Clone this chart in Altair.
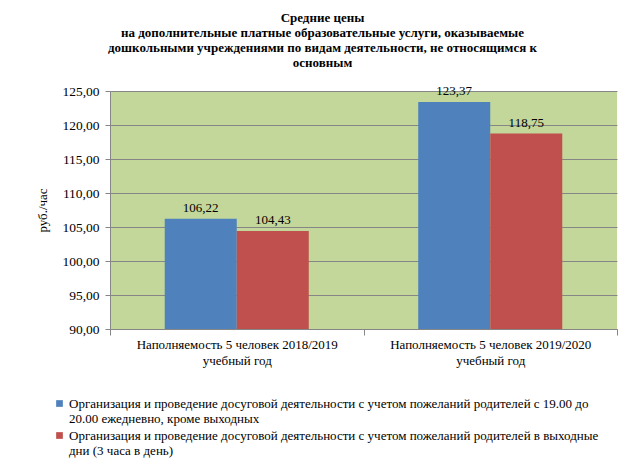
import altair as alt
import pandas as pd

FONT = "Liberation Serif"

categories = [
    "Наполняемость 5 человек 2018/2019|учебный год",
    "Наполняемость 5 человек 2019/2020|учебный год",
]
series = [
    "Организация и проведение досуговой деятельности  с учетом пожеланий родителей с 19.00  до|20.00  ежедневно,  кроме выходных",
    "Организация и проведение досуговой деятельности  с учетом пожеланий родителей в выходные|дни (3  часа в день)",
]
values_weekday = [106.22, 123.37]
values_weekend = [104.43, 118.75]
colors = ["#4F81BD", "#C0504D"]
title_lines = [
    "Средние  цены",
    "на дополнительные  платные  образовательные  услуги, оказываемые",
    "дошкольными  учреждениями по видам деятельности,  не  относящимся  к",
    "основным",
]

rows = []
for c, v1, v2 in zip(categories, values_weekday, values_weekend):
    rows.append({"cat": c, "ser": series[0], "val": v1})
    rows.append({"cat": c, "ser": series[1], "val": v2})
df = pd.DataFrame(rows)

x = alt.X(
    "cat:N",
    sort=categories,
    title=None,
    scale=alt.Scale(paddingInner=0, paddingOuter=0),
    axis=alt.Axis(
        labelExpr="split(datum.label, '|')",
        labelAngle=0,
        labelFont=FONT,
        labelFontSize=13,
        labelColor="#000000",
        labelLineHeight=16,
        labelPadding=3,
        tickBand="extent",
        tickSize=6,
        tickColor="#868686",
        domainColor="#868686",
        grid=False,
        labelLimit=400,
    ),
)
xoff = alt.XOffset(
    "ser:N",
    sort=series,
    scale=alt.Scale(paddingOuter=0.76, paddingInner=0),
)
y = alt.Y(
    "val:Q",
    title="руб./час",
    scale=alt.Scale(domain=[90, 125], nice=False, zero=False),
    axis=alt.Axis(
        values=[90, 95, 100, 105, 110, 115, 120, 125],
        labelExpr="replace(format(datum.value, '.2f'), '.', ',')",
        labelFont=FONT,
        labelFontSize=13.5,
        labelColor="#000000",
        labelPadding=6,
        tickSize=5,
        tickColor="#868686",
        domainColor="#868686",
        gridColor="#868686",
        gridWidth=1,
        titleFont=FONT,
        titleFontSize=13,
        titleFontWeight="normal",
        titleColor="#000000",
        titlePadding=12,
    ),
)
color = alt.Color(
    "ser:N",
    scale=alt.Scale(domain=series, range=colors),
    legend=alt.Legend(
        title=None,
        orient="none",
        legendX=-57,
        legendY=306,
        direction="vertical",
        symbolType="square",
        symbolSize=45,
        symbolStrokeWidth=0,
        labelExpr="split(datum.label, '|')",
        labelFont=FONT,
        labelFontSize=13,
        labelColor="#000000",
        labelLimit=700,
        labelOffset=3,
        rowPadding=3,
    ),
)

bars = alt.Chart(df).mark_bar(clip=True).encode(x=x, xOffset=xoff, y=y, color=color)
labels = (
    alt.Chart(df)
    .transform_calculate(txt="replace(format(datum.val, '.2f'), '.', ',')")
    .mark_text(baseline="bottom", dy=-4, font=FONT, fontSize=13, color="#000000")
    .encode(x=x, xOffset=xoff, y=y, text="txt:N")
)

chart = (
    alt.layer(bars, labels)
    .properties(
        width=507,
        height=238,
        autosize=alt.AutoSizeParams(type="none"),
        padding={"left": 102, "top": 83, "right": 19, "bottom": 133},
        background="#FFFFFF",
        title=alt.TitleParams(
            text=title_lines,
            font=FONT,
            fontSize=13,
            fontWeight="bold",
            color="#000000",
            lineHeight=15,
            anchor="middle",
            dx=-41,
            offset=14,
        ),
    )
    .configure_view(fill="#C4D79B", stroke=None)
)

chart.save("out.html", embed_options={"renderer": "svg", "actions": False})
